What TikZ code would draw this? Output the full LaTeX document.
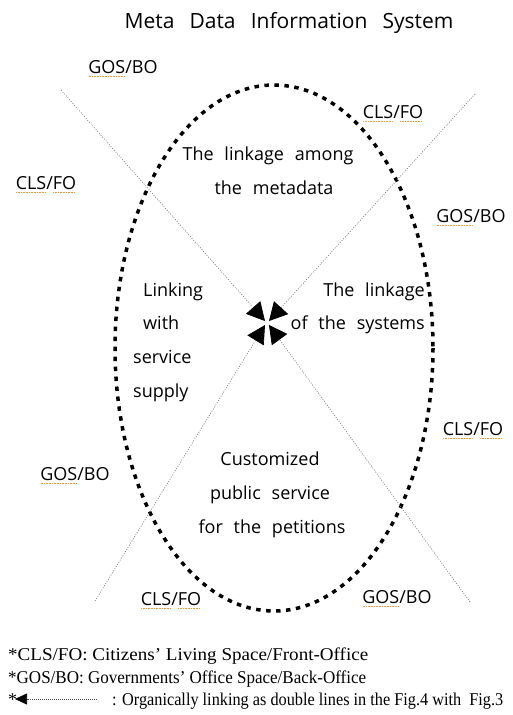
\documentclass[tikz,border=0pt]{standalone}
\usepackage{fontspec}
\setmainfont{Liberation Serif}
\newfontfamily\diagfont{Open Sans}
\usetikzlibrary{arrows.meta}
\newcommand\spellmark[1]{\setbox0\hbox{#1}\rlap{\raisebox{-3.5pt}{\color{orange!80}\hbox to \wd0{\leaders\hbox to 1.6pt{\hss\rule{0.9pt}{0.7pt}\hss}\hfill}}}\box0}
\begin{document}
\begin{tikzpicture}[x=1pt,y=-1pt,
  sanstext/.style={font={\diagfont\fontsize{18}{18}\selectfont\spaceskip=0.6em\relax}, inner sep=0pt, anchor=base},
  zonelabel/.style={font={\diagfont\fontsize{18}{18}\selectfont}, inner sep=0pt, anchor=base},
  titletext/.style={font={\diagfont\fontsize{21}{21}\selectfont\spaceskip=0.72em\relax}, inner sep=0pt, anchor=base},
  foot/.style={font={\fontsize{18}{18}\selectfont}, inner sep=0pt, anchor=base west},
  ellipsedash/.style={line width=3.5pt, dash pattern=on 4.5pt off 5.5pt},
  guide/.style={gray, line width=0.7pt, dash pattern=on 1pt off 1.5pt,
    -{Triangle[length=18pt,width=19pt,color=black]}},
]
\useasboundingbox (0,0) rectangle (513,715);

% title
\node[titletext] (title) at (289,28) {Meta Data Information System};

% ellipse
\draw[ellipsedash] (274,348) ellipse [x radius=159, y radius=263];

% guide lines
\coordinate (a1) at (61,90);
\coordinate (a2) at (470,602);
\coordinate (b1) at (475,94);
\coordinate (b2) at (95,601);
\coordinate (ca1) at (265,321);
\coordinate (ca2) at (269,325);
\coordinate (cb1) at (269,321);
\coordinate (cb2) at (265,325);
\draw[guide] (a1) -- (ca1);
\draw[guide] (a2) -- (ca2);
\draw[guide] (b1) -- (cb1);
\draw[guide] (b2) -- (cb2);

% zone labels
\node[zonelabel] (gbTL) at (123,73) {\spellmark{GOS}/BO};
\node[zonelabel] (cfTR) at (393,118) {\spellmark{CLS}/\spellmark{FO}};
\node[zonelabel] (cfL) at (46,189) {\spellmark{CLS}/\spellmark{FO}};
\node[zonelabel] (gbR) at (471,222) {\spellmark{GOS}/BO};
\node[zonelabel] (cfR) at (473,435) {\spellmark{CLS}/\spellmark{FO}};
\node[zonelabel] (gbL) at (75,480) {\spellmark{GOS}/BO};
\node[zonelabel] (cfB) at (171,605) {\spellmark{CLS}/\spellmark{FO}};
\node[zonelabel] (gbB) at (397,603) {\spellmark{GOS}/BO};

% inner texts
\node[sanstext] (top1) at (268,160) {The linkage among};
\node[sanstext] (top2) at (274,194) {the metadata};
\node[sanstext, anchor=base west] (left1) at (143,296) {Linking};
\node[sanstext, anchor=base west] (left2) at (143,329.5) {with};
\node[sanstext, anchor=base west] (left3) at (133,363) {service};
\node[sanstext, anchor=base west] (left4) at (133,397) {supply};
\node[sanstext, anchor=base east] (right1) at (425,296) {The linkage};
\node[sanstext, anchor=base east] (right2) at (425,329.5) {of the systems};
\node[sanstext] (bot1) at (270,465) {Customized};
\node[sanstext] (bot2) at (270,499) {public service};
\node[sanstext] (bot3) at (272,533) {for the petitions};

% footer
\node[foot] (f1) at (8,660) {\resizebox{360pt}{\height}{*CLS/FO: Citizens' Living Space/Front-Office}};
\node[foot] (f2) at (8,683) {\resizebox{358pt}{\height}{*GOS/BO: Governments' Office Space/Back-Office}};
\node[foot] (f3star) at (8,705) {*};
\coordinate (legS) at (97,699);
\coordinate (legE) at (15,699);
\draw[black!70, line width=0.6pt, dash pattern=on 0.7pt off 1.3pt,
  -{Triangle[length=12pt,width=11pt,color=black]}] (legS) -- (legE);
\node[foot] (f3) at (112,705) {\resizebox{391pt}{\height}{: Organically linking as double lines in the Fig.4 with\ \ Fig.3}};
\end{tikzpicture}
\end{document}
